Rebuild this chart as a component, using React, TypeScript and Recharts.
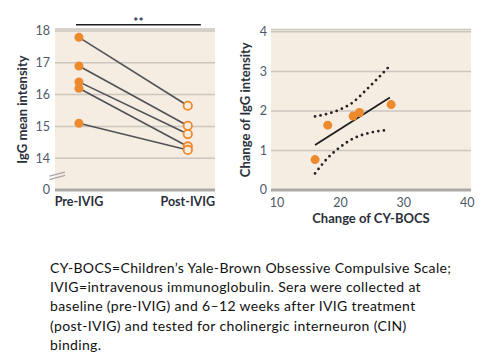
import {
  ComposedChart,
  Line,
  Scatter,
  XAxis,
  YAxis,
  CartesianGrid,
  ReferenceLine,
} from 'recharts';

// left panel: paired IgG mean intensity, pre vs post IVIG
const groups = ['Pre-IVIG', 'Post-IVIG'];
const preIvig = [17.8, 16.9, 16.4, 16.2, 15.1];
const postIvig = [15.65, 15.02, 14.76, 14.37, 14.26];
const leftTicks = [13, 14, 15, 16, 17, 18];
const leftTickLabels = ['0', '14', '15', '16', '17', '18'];

// right panel: change of CY-BOCS vs change of IgG intensity
const cyBocsChange = [16, 18, 22, 23, 28];
const igGChange = [0.77, 1.64, 1.87, 1.96, 2.16];
const fitX = [16, 27.8];
const fitY = [1.14, 2.34];
const ciX = [16, 18, 20, 22, 24, 26, 27.6];
const ciUpper = [1.86, 1.93, 2.04, 2.22, 2.52, 2.84, 3.11];
const ciLower = [0.42, 0.81, 1.09, 1.3, 1.42, 1.49, 1.52];
const rightXTicks = [10, 20, 30, 40];
const rightYTicks = [0, 1, 2, 3, 4];

const captionLines = [
  'CY-BOCS=Children\u2019s Yale-Brown Obsessive Compulsive Scale;',
  'IVIG=intravenous immunoglobulin. Sera were collected at',
  'baseline (pre-IVIG) and 6\u201312 weeks after IVIG treatment',
  '(post-IVIG) and tested for cholinergic interneuron (CIN)',
  'binding.',
];

const ORANGE = '#ee8a2e';
const BG = '#f5ede1';
const GRID = '#cbc6bf';
const AXIS = '#aba9a6';
const TICK = '#4f5966';
const TITLE = '#2a2f3a';
const FONT = 'Lato, "Open Sans", sans-serif';

const pairs = preIvig.map((pre, i) => [
  { x: 0, y: pre },
  { x: 1, y: postIvig[i] },
]);
const preData = preIvig.map((y) => ({ x: 0, y }));
const postData = postIvig.map((y) => ({ x: 1, y }));

const scatterData = cyBocsChange.map((x, i) => ({ x, y: igGChange[i] }));
const fitData = fitX.map((x, i) => ({ x, y: fitY[i] }));
const upperData = ciX.map((x, i) => ({ x, y: ciUpper[i] }));
const lowerData = ciX.map((x, i) => ({ x, y: ciLower[i] }));

const tickStyle = { fill: TICK, fontSize: 12.5, fontFamily: FONT };
const titleStyle = { fill: TITLE, fontSize: 13, fontWeight: 700, fontFamily: FONT, textAnchor: 'middle' as const };

function OpenCircle(props: any) {
  return <circle cx={props.cx} cy={props.cy} r={4.2} fill={BG} stroke={ORANGE} strokeWidth={1.8} />;
}

function FilledCircle(props: any) {
  return <circle cx={props.cx} cy={props.cy} r={4.5} fill={ORANGE} />;
}

function PairedChart() {
  return (
    <ComposedChart width={230} height={235} margin={{ top: 29, right: 15, bottom: 0, left: 0 }}>
      <CartesianGrid fill={BG} stroke={GRID} strokeWidth={1.5} vertical={false} />
      <XAxis
        type="number"
        dataKey="x"
        domain={[-0.22, 1.25]}
        ticks={[0, 1]}
        tickFormatter={(v: number) => groups[v]}
        tick={{ ...tickStyle, fill: TITLE, fontWeight: 700, fontSize: 12.5 }}
        tickSize={0}
        tickMargin={7}
        height={45}
        axisLine={{ stroke: AXIS, strokeWidth: 3 }}
        allowDataOverflow
      />
      <YAxis
        type="number"
        dataKey="y"
        domain={[13, 18.063]}
        ticks={leftTicks}
        tickFormatter={(_v: number, i: number) => leftTickLabels[i]}
        tick={tickStyle}
        tickSize={0}
        tickMargin={5}
        width={55}
        axisLine={false}
        allowDataOverflow
        label={{ value: 'IgG mean intensity', angle: -90, position: 'insideLeft', offset: 22, style: titleStyle }}
      />
      <ReferenceLine
        segment={[{ x: -0.027, y: 18.2 }, { x: 1.12, y: 18.2 }]}
        stroke="#1c1c1c"
        strokeWidth={1.5}
        ifOverflow="visible"
        label={{ value: '**', position: 'top', offset: -1, fill: '#1d2b4a', fontSize: 12, fontWeight: 700, fontFamily: FONT }}
      />
      <ReferenceLine
        segment={[{ x: -0.272, y: 13.44 }, { x: -0.128, y: 13.56 }]}
        stroke="#a9a7a4"
        strokeWidth={1.3}
        ifOverflow="visible"
      />
      <ReferenceLine
        segment={[{ x: -0.272, y: 13.33 }, { x: -0.128, y: 13.46 }]}
        stroke="#a9a7a4"
        strokeWidth={1.3}
        ifOverflow="visible"
      />
      {pairs.map((d, i) => (
        <Line
          key={i}
          data={d}
          dataKey="y"
          stroke="#505257"
          strokeWidth={1.6}
          dot={false}
          isAnimationActive={false}
        />
      ))}
      <Scatter data={preData} dataKey="y" shape={FilledCircle} isAnimationActive={false} />
      <Scatter data={postData} dataKey="y" shape={OpenCircle} isAnimationActive={false} />
    </ComposedChart>
  );
}

function CorrelationChart() {
  const dotted = {
    stroke: '#222',
    strokeWidth: 2.8,
    strokeDasharray: '0 5.6',
    strokeLinecap: 'round' as const,
    dot: false,
    isAnimationActive: false,
    type: 'monotone' as const,
    dataKey: 'y',
  };
  return (
    <ComposedChart width={272} height={235} margin={{ top: 29.5, right: 21, bottom: 0, left: 0 }}>
      <CartesianGrid fill={BG} stroke={GRID} strokeWidth={1.5} vertical={false} />
      <XAxis
        type="number"
        dataKey="x"
        domain={[9.05, 40.6]}
        ticks={rightXTicks}
        tick={tickStyle}
        tickSize={0}
        tickMargin={8}
        height={45}
        axisLine={{ stroke: AXIS, strokeWidth: 3 }}
        allowDataOverflow
        label={{ value: 'Change of CY-BOCS', position: 'insideBottom', offset: 12, style: titleStyle }}
      />
      <YAxis
        type="number"
        dataKey="y"
        domain={[0, 4.06]}
        ticks={rightYTicks}
        tick={tickStyle}
        tickSize={0}
        tickMargin={4}
        width={51}
        axisLine={false}
        allowDataOverflow
        label={{ value: 'Change of IgG intensity', angle: -90, position: 'insideLeft', offset: 25, style: titleStyle }}
      />
      <Line {...dotted} data={upperData} />
      <Line {...dotted} data={lowerData} />
      <Line data={fitData} dataKey="y" stroke="#1e1e1e" strokeWidth={1.8} dot={false} isAnimationActive={false} />
      <Scatter data={scatterData} dataKey="y" shape={FilledCircle} isAnimationActive={false} />
    </ComposedChart>
  );
}

export default function App() {
  return (
    <div style={{ position: 'absolute', left: 0, top: 0, width: 492, height: 359, background: '#fff' }}>
      <div style={{ position: 'absolute', left: 0, top: 0 }}>
        <PairedChart />
      </div>
      <div style={{ position: 'absolute', left: 220, top: 0 }}>
        <CorrelationChart />
      </div>
      <div
        style={{
          position: 'absolute',
          left: 50,
          top: 258,
          fontFamily: FONT,
          fontSize: 14,
          letterSpacing: '0.35px',
          lineHeight: '19.2px',
          color: '#111',
          whiteSpace: 'nowrap',
        }}
      >
        {captionLines.map((t) => (
          <div key={t}>{t}</div>
        ))}
      </div>
    </div>
  );
}
